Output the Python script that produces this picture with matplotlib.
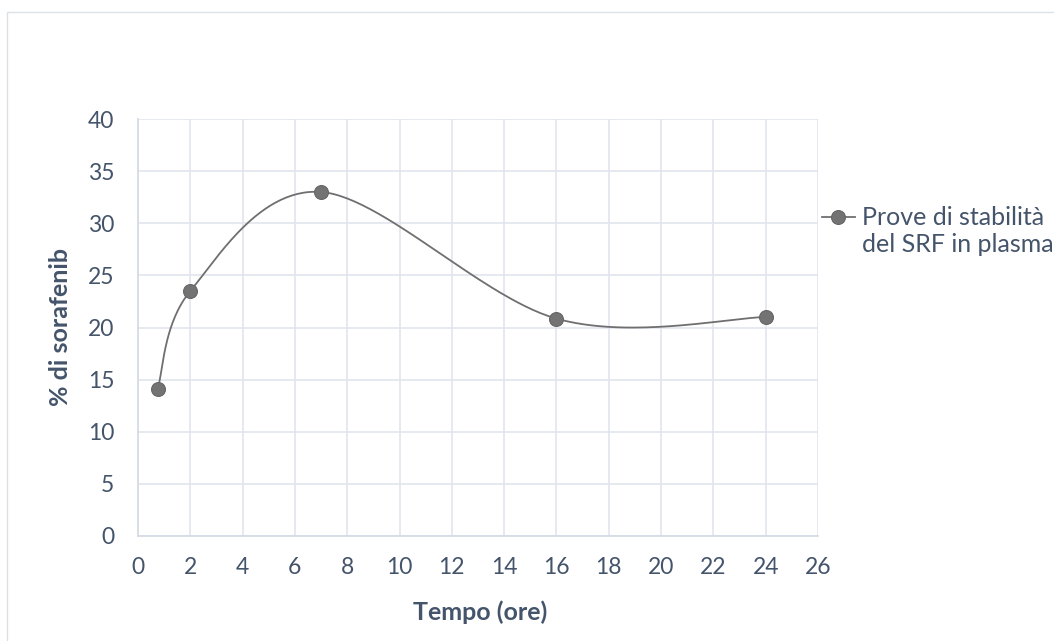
import numpy as np
import matplotlib
matplotlib.use("Agg")
import matplotlib.pyplot as plt
from matplotlib.patches import Rectangle
from matplotlib.lines import Line2D

# Data
tempo = [0.75, 2, 7, 16, 24]
sorafenib = [14.1, 23.5, 33.0, 20.85, 21.0]
x_ticks = list(range(0, 27, 2))
y_ticks = list(range(0, 41, 5))
series_label = "Prove di stabilità\ndel SRF in plasma"
x_label = "Tempo (ore)"
y_label = "% di sorafenib"

TXT = "#44546A"
GRID = "#E1E6EE"
LINE = "#6F6F6F"

plt.rcParams['font.family'] = ['Lato', 'DejaVu Sans']

W, H = 1054, 641
fig = plt.figure(figsize=(W / 100, H / 100), dpi=100)

# outer chart border
fig.patches.append(Rectangle((7 / W, -0.05), 1.1, 1 - 12 / H + 0.05,
                             transform=fig.transFigure, fill=False,
                             edgecolor="#DDE1E6", linewidth=1.0))

ax = fig.add_axes([138 / W, 1 - 536 / H, (818 - 138) / W, (536 - 119) / H])


def smooth(xs, ys, n=60):
    P = np.column_stack([xs, ys]).astype(float)
    m = len(P)
    out = [P[0]]
    for i in range(m - 1):
        p0 = P[i]
        p3 = P[i + 1]
        pm = P[i - 1] if i > 0 else P[i]
        pp = P[i + 2] if i + 2 < m else P[i + 1]
        c1 = p0 + (p3 - pm) / 6.0
        c2 = p3 - (pp - p0) / 6.0
        t = np.linspace(0, 1, n)[1:, None]
        seg = ((1 - t) ** 3) * p0 + 3 * ((1 - t) ** 2) * t * c1 + 3 * (1 - t) * t ** 2 * c2 + t ** 3 * p3
        out.extend(seg)
    out = np.array(out)
    return out[:, 0], out[:, 1]


sx, sy = smooth(tempo, sorafenib)
ax.plot(sx, sy, color=LINE, linewidth=1.3, zorder=3, solid_capstyle='round')
ax.plot(tempo, sorafenib, linestyle='none', marker='o', markersize=10,
        markerfacecolor="#737373", markeredgecolor="#666666",
        markeredgewidth=0.8, zorder=4)

ax.set_xlim(0, 26)
ax.set_ylim(0, 40)
ax.set_xticks(x_ticks)
ax.set_yticks(y_ticks)
ax.grid(True, color=GRID, linewidth=1.2)
ax.set_axisbelow(True)
for s in ['top', 'right']:
    ax.spines[s].set_visible(False)
for s in ['left', 'bottom']:
    ax.spines[s].set_color("#D6DCE5")
    ax.spines[s].set_linewidth(1.3)
ax.tick_params(length=0, labelsize=16.5, labelcolor=TXT)
ax.tick_params(axis='x', pad=15)
ax.tick_params(axis='y', pad=17)

ax.set_xlabel(x_label, fontsize=18, fontweight='bold', color=TXT, va='center')
ax.xaxis.set_label_coords((480 - 138) / 680, (536 - 612) / 417)
ax.set_ylabel(y_label, fontsize=18, fontweight='bold', color=TXT, va='center')
ax.yaxis.set_label_coords((60 - 138) / 680, 0.5)

# legend drawn manually
ly = 1 - 217 / H
fig.add_artist(Line2D([822 / W, 855 / W], [ly, ly], transform=fig.transFigure,
                      color=LINE, linewidth=1.3))
fig.add_artist(Line2D([838 / W], [ly], transform=fig.transFigure,
                      marker='o', markersize=10, markerfacecolor="#737373",
                      markeredgecolor="#666666", markeredgewidth=0.8))
fig.text(862 / W, 1 - 231 / H, series_label, fontsize=18, color=TXT,
         ha='left', va='center', linespacing=1.2)

fig.savefig("out.png", dpi=100, facecolor='white')
